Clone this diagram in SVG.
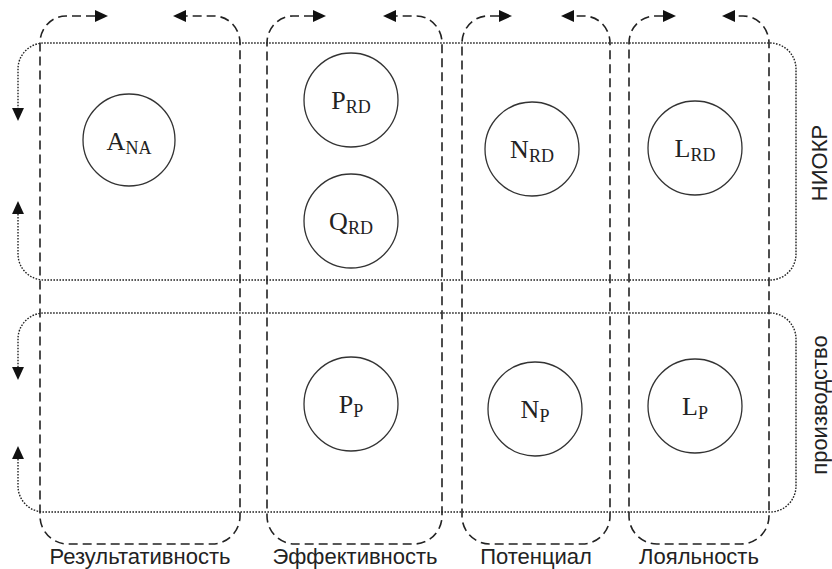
<svg xmlns="http://www.w3.org/2000/svg" width="832" height="569" viewBox="0 0 832 569">
<style>
.col{fill:none;stroke:#222;stroke-width:1.6;stroke-dasharray:9 5}
.row{fill:none;stroke:#222;stroke-width:1.4;stroke-dasharray:1.6 1.4}
.node circle{fill:none;stroke:#333;stroke-width:1.3}
.node text{font-family:"Liberation Serif","Times New Roman",serif;font-size:26px;fill:#222;text-anchor:middle}
.sub{font-size:18px}
.lbl{font-family:"Liberation Sans",Arial,sans-serif;font-size:22px;fill:#222;text-anchor:middle}
</style>
<defs>
<marker id="ah" markerUnits="userSpaceOnUse" markerWidth="13" markerHeight="12" refX="0" refY="5.5" orient="auto-start-reverse" viewBox="0 0 12 11">
<path d="M0,0 L12,5.5 L0,11 z" fill="#111"/>
</marker>
</defs>
<g id="connectors">
<path class="col" marker-start="url(#ah)" marker-end="url(#ah)" d="M95,16 H66 A26,27 0 0 0 40,43 V516 A28,28 0 0 0 68,544 H212 A28,28 0 0 0 240,516 V43 A26,27 0 0 0 214,16 H186"/>
<path class="col" marker-start="url(#ah)" marker-end="url(#ah)" d="M313,16 H293 A26,27 0 0 0 267,43 V516 A28,28 0 0 0 295,544 H414 A28,28 0 0 0 442,516 V43 A26,27 0 0 0 416,16 H396"/>
<path class="col" marker-start="url(#ah)" marker-end="url(#ah)" d="M499,16 H488 A26,27 0 0 0 462,43 V516 A28,28 0 0 0 490,544 H582 A28,28 0 0 0 610,516 V43 A26,27 0 0 0 584,16 H574"/>
<path class="col" marker-start="url(#ah)" marker-end="url(#ah)" d="M663,16 H655 A26,27 0 0 0 629,43 V516 A28,28 0 0 0 657,544 H741 A28,28 0 0 0 769,516 V43 A26,27 0 0 0 743,16 H735"/>
<path class="row" marker-start="url(#ah)" marker-end="url(#ah)" d="M18,214 V254 A26,26 0 0 0 44,280 H770 A26,26 0 0 0 796,254 V69 A26,26 0 0 0 770,43 H44 A26,26 0 0 0 18,69 V108"/>
<path class="row" marker-start="url(#ah)" marker-end="url(#ah)" d="M18,459 V486 A26,26 0 0 0 44,512 H770 A26,26 0 0 0 796,486 V339 A26,26 0 0 0 770,313 H44 A26,26 0 0 0 18,339 V367"/>
</g>
<g id="A_NA" class="node"><circle cx="129" cy="140" r="46"/><text x="129" y="150">A<tspan class="sub" dy="4">NA</tspan></text></g>
<g id="P_RD" class="node"><circle cx="351" cy="100" r="47"/><text x="351" y="109">P<tspan class="sub" dy="4">RD</tspan></text></g>
<g id="Q_RD" class="node"><circle cx="351" cy="221" r="47"/><text x="351" y="230">Q<tspan class="sub" dy="4">RD</tspan></text></g>
<g id="N_RD" class="node"><circle cx="532" cy="149" r="47"/><text x="532" y="158">N<tspan class="sub" dy="4">RD</tspan></text></g>
<g id="L_RD" class="node"><circle cx="695" cy="148" r="47"/><text x="695" y="157">L<tspan class="sub" dy="4">RD</tspan></text></g>
<g id="P_P" class="node"><circle cx="351" cy="404" r="47"/><text x="351" y="413">P<tspan class="sub" dy="4">P</tspan></text></g>
<g id="N_P" class="node"><circle cx="535" cy="409" r="47"/><text x="535" y="418">N<tspan class="sub" dy="4">P</tspan></text></g>
<g id="L_P" class="node"><circle cx="695" cy="406" r="47"/><text x="695" y="415">L<tspan class="sub" dy="4">P</tspan></text></g>
<g id="labels">
<text class="lbl" x="140" y="564">Результативность</text>
<text class="lbl" x="355" y="564">Эффективность</text>
<text class="lbl" x="536" y="564">Потенциал</text>
<text class="lbl" x="699" y="564">Лояльность</text>
<text class="lbl" transform="translate(827,163) rotate(-90)">НИОКР</text>
<text class="lbl" transform="translate(827,405) rotate(-90)">производство</text>
</g>
</svg>
